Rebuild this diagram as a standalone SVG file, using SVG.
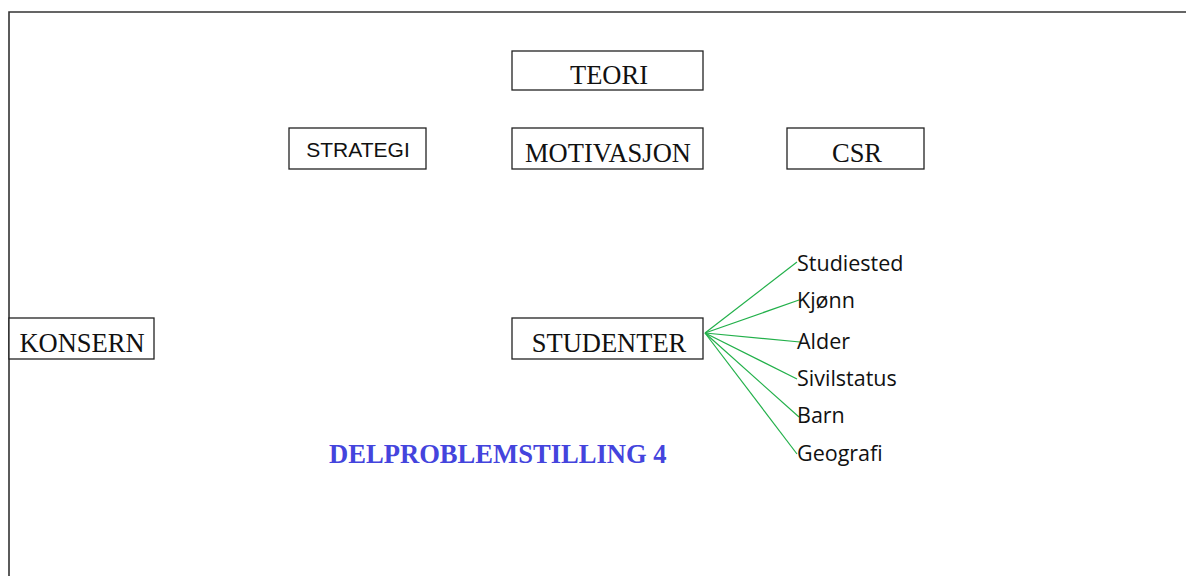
<svg xmlns="http://www.w3.org/2000/svg" width="1186" height="576" viewBox="0 0 1186 576">
  <style>
    .frame { fill: none; stroke: #333; stroke-width: 1.6; }
    .box { fill: #fff; stroke: #222; stroke-width: 1.3; }
    .serif { font-family: "Liberation Serif", "Times New Roman", serif; font-size: 26.5px; fill: #111; text-anchor: middle; }
    .sans { font-family: "Liberation Sans", Arial, sans-serif; font-size: 21px; fill: #111; text-anchor: middle; }
    .attr { font-family: "Open Sans", "Noto Sans", sans-serif; font-size: 21.5px; fill: #111; }
    .link { stroke: #22b04a; stroke-width: 1.2; fill: none; }
    .title { font-family: "Liberation Serif", "Times New Roman", serif; font-weight: bold; font-size: 26.6px; fill: #4444dd; }
  </style>

  <rect width="1186" height="576" fill="#fff"/>

  <!-- page frame, open on the right and bottom -->
  <path class="frame" d="M9 576 V12 H1186"/>

  <!-- connectors from STUDENTER to its attributes -->
  <g id="connectors">
    <line class="link" x1="705" y1="333" x2="797" y2="262"/>
    <line class="link" x1="705" y1="333" x2="799" y2="300"/>
    <line class="link" x1="705" y1="333" x2="800" y2="342"/>
    <line class="link" x1="705" y1="333" x2="797" y2="379"/>
    <line class="link" x1="705" y1="333" x2="799" y2="417"/>
    <line class="link" x1="705" y1="333" x2="797" y2="454"/>
  </g>

  <g id="teori">
    <rect class="box" x="512" y="51" width="191" height="39"/>
    <text class="serif" x="609" y="84">TEORI</text>
  </g>

  <g id="strategi">
    <rect class="box" x="289" y="128" width="137" height="41"/>
    <text class="sans" x="358" y="157">STRATEGI</text>
  </g>

  <g id="motivasjon">
    <rect class="box" x="512" y="128" width="191" height="41"/>
    <text class="serif" x="608" y="162">MOTIVASJON</text>
  </g>

  <g id="csr">
    <rect class="box" x="787" y="128" width="137" height="41"/>
    <text class="serif" x="857" y="162">CSR</text>
  </g>

  <g id="konsern">
    <rect class="box" x="9" y="318" width="145" height="41"/>
    <text class="serif" x="82" y="352">KONSERN</text>
  </g>

  <g id="studenter">
    <rect class="box" x="512" y="318" width="191" height="41"/>
    <text class="serif" x="609" y="352">STUDENTER</text>
  </g>

  <g id="attributes">
    <text class="attr" x="797" y="271">Studiested</text>
    <text class="attr" x="797" y="308">Kjønn</text>
    <text class="attr" x="797" y="349">Alder</text>
    <text class="attr" x="797" y="386">Sivilstatus</text>
    <text class="attr" x="797" y="423">Barn</text>
    <text class="attr" x="797" y="461">Geografi</text>
  </g>

  <g id="heading">
    <text class="title" x="329" y="463">DELPROBLEMSTILLING 4</text>
  </g>
</svg>
